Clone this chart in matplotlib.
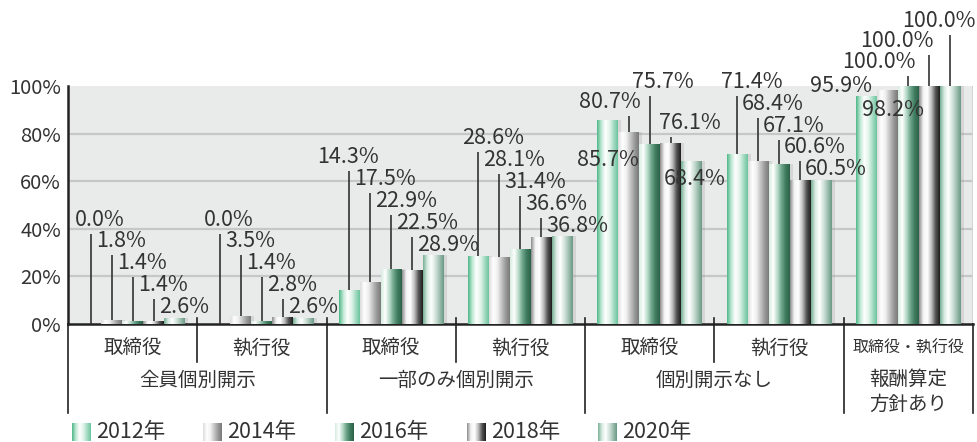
import numpy as np
import matplotlib
matplotlib.use("Agg")
import matplotlib.pyplot as plt
from matplotlib.colors import LinearSegmentedColormap

plt.rcParams['font.family'] = ['Noto Sans CJK JP', 'DejaVu Sans']

# --- data ---
years = ["2012年", "2014年", "2016年", "2018年", "2020年"]
sub_labels = ["取締役", "執行役", "取締役", "執行役", "取締役", "執行役", "取締役・執行役"]
group_labels = ["全員個別開示", "一部のみ個別開示", "個別開示なし", "報酬算定\n方針あり"]
group_spans = [2, 2, 2, 1]

v2012 = [0.0, 0.0, 14.3, 28.6, 85.7, 71.4, 95.9]
v2014 = [1.8, 3.5, 17.5, 28.1, 80.7, 68.4, 98.2]
v2016 = [1.4, 1.4, 22.9, 31.4, 75.7, 67.1, 100.0]
v2018 = [1.4, 2.8, 22.5, 36.6, 76.1, 60.6, 100.0]
v2020 = [2.6, 2.6, 28.9, 36.8, 68.4, 60.5, 100.0]
series = [v2012, v2014, v2016, v2018, v2020]

# gradient (left -> right) for each year's bars
grads = [
    ["#4fb889", "#bfe8d4", "#ffffff", "#e2f4eb", "#a6dbc3", "#6cc59e"],
    ["#dcdcdc", "#ffffff", "#f0f0f0", "#c4c4c4", "#9a9a9a", "#7a7a7a"],
    ["#d6ece1", "#ffffff", "#b9dccb", "#6fa58b", "#3f7c60", "#2c6148"],
    ["#8e8e8e", "#f4f4f4", "#ffffff", "#bdbdbd", "#555555", "#1e1e1e"],
    ["#78b095", "#d8ebe2", "#ffffff", "#d2e3db", "#9fbfb1", "#6a9985"],
]
cmaps = [LinearSegmentedColormap.from_list("g%d" % k, c) for k, c in enumerate(grads)]

W, H = 978, 442
fig = plt.figure(figsize=(W / 100, H / 100), dpi=100)
ax = fig.add_axes([68 / W, (H - 324) / H, (973 - 68) / W, (324 - 86) / H])
ax.set_facecolor("#e9eaea")

n_groups = len(sub_labels)
x = np.arange(n_groups)
PX = n_groups / (973 - 68)          # data units per pixel (x)
PY = 100 / (324 - 86)               # percent per pixel (y)
bw = 21 * PX
grad_img = np.linspace(0, 1, 64).reshape(1, -1)

for k, vals in enumerate(series):
    xs = x + (k - 2) * bw
    # soft shadow on the right side
    ax.bar(xs + 3 * PX, vals, width=bw, color="#9a9a9a", alpha=0.25, zorder=2, linewidth=0)
    bars = ax.bar(xs, vals, width=bw, color="none", linewidth=0, zorder=3)
    for b in bars:
        if b.get_height() <= 0:
            continue
        x0, y0 = b.get_x(), b.get_y()
        im = ax.imshow(grad_img, cmap=cmaps[k], aspect="auto", zorder=3,
                       extent=[x0, x0 + b.get_width(), y0, y0 + b.get_height()])
        im.set_clip_path(b)

ax.set_xlim(-0.5, n_groups - 0.5)
ax.set_ylim(0, 100)

# grid & axes
ax.set_yticks([0, 20, 40, 60, 80, 100])
ax.set_yticklabels(["0%", "20%", "40%", "60%", "80%", "100%"], fontsize=14.5, color="#333333")
ax.tick_params(axis="y", length=0, pad=5)
for yv in [20, 40, 60, 80]:
    ax.axhline(yv, color="#c6c7c9", linewidth=1.6, zorder=1)
ax.set_xticks([])
for s in ["top", "right"]:
    ax.spines[s].set_visible(False)
ax.spines["left"].set_linewidth(1.8)
ax.spines["left"].set_color("#222222")
ax.spines["bottom"].set_linewidth(1.8)
ax.spines["bottom"].set_color("#222222")
ax.axvline(n_groups - 0.5, color="#cfd0d2", linewidth=1.2, zorder=1)

# value labels with leader lines
step = 9.2
overrides = {
    (2, 0): (-32.5, None, True),
    (4, 0): (-30.5, 69.1, False),
    (4, 1): (-49.5, 93.2, True),
    (4, 2): (-17.5, 101.7, True),
    (4, 3): (-11.5, 84.3, True),
    (4, 4): (-28.5, 61.0, False),
    (6, 0): (-56.5, 100.0, False),
    (6, 1): (-25.5, 89.8, False),
    (6, 2): (-66.5, 110.2, True),
    (6, 3): (-69.5, 119.1, True),
    (6, 4): (-48.5, 127.5, True),
}
for g in range(n_groups):
    top_last = series[-1][g]
    for k, vals in enumerate(series):
        cx = g + (k - 2) * bw
        dx, ly, line = -16, top_last + 4.5 + (4 - k) * step, k < 4
        if (g, k) in overrides:
            odx, oly, line = overrides[(g, k)]
            dx = odx
            if oly is not None:
                ly = oly
        ax.text(cx + dx * PX, ly, "%.1f%%" % vals[g], fontsize=15.5, color="#333333",
                ha="left", va="center", zorder=6, clip_on=False)
        if line:
            ax.plot([cx, cx], [ly - 14 * PY, vals[g]], color="#333333", linewidth=1.2,
                    zorder=5, clip_on=False, solid_capstyle="butt")

# group boundary ticks on axis
for b in np.arange(0.5, n_groups - 0.5, 1):
    ax.plot([b, b], [0, 6 * PY], color="#222222", linewidth=1.2, zorder=4, clip_on=False)

# category labels under the axis
def ypx(p):
    return (H - p) / H

for g, lab in enumerate(sub_labels):
    fx = (68 + (g + 0.5) / PX) / W
    fs = 11.5 if len(lab) > 3 else 14
    fig.text(fx, ypx(348), lab, ha="center", va="center", fontsize=fs, color="#333333")

start = 0
for lab, span in zip(group_labels, group_spans):
    fx = (68 + (start + span / 2) / PX) / W
    fy = ypx(392) if "\n" in lab else ypx(380)
    fig.text(fx, fy, lab, ha="center", va="center", fontsize=14, color="#333333",
             linespacing=1.25)
    start += span

# separators below the axis
sep_ax = fig.add_axes([0, 0, 1, 1], facecolor="none")
sep_ax.set_xlim(0, W)
sep_ax.set_ylim(H, 0)
sep_ax.axis("off")
start = 0
bounds = [0]
for span in group_spans:
    start += span
    bounds.append(start)
for g in range(n_groups + 1):
    xp = 68 + g / PX
    if g == n_groups:
        xp = 973
    yend = 413 if g in bounds else 362
    sep_ax.plot([xp, xp], [324, yend], color="#222222", linewidth=1.2)

# legend with gradient swatches
leg_x = [72, 203, 335, 467, 598]
for k, yr in enumerate(years):
    sw = fig.add_axes([leg_x[k] / W, (H - 441) / H, 19 / W, 18 / H])
    sw.imshow(grad_img, cmap=cmaps[k], aspect="auto")
    sw.axis("off")
    fig.text((leg_x[k] + 24) / W, ypx(432), yr, ha="left", va="center",
             fontsize=15.5, color="#333333")

fig.savefig("out.png", dpi=100)
